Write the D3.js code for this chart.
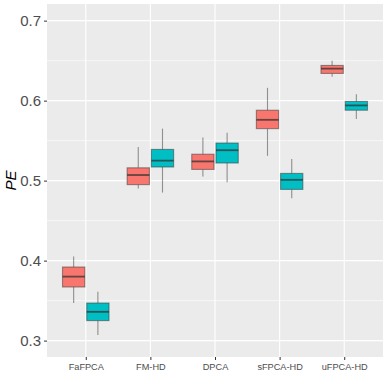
<!DOCTYPE html>
<html><head><meta charset="utf-8">
<script src="https://cdn.jsdelivr.net/npm/d3@7"></script>
<style>body{margin:0;background:#fff;}svg{display:block;}</style>
</head><body>
<svg id="c" width="388" height="388"></svg>
<script>
const categories = ["FaFPCA","FM-HD","DPCA","sFPCA-HD","uFPCA-HD"];
const groups = ["A","B"];
const colors = ["#F8766D","#00BFC4"];
// [whiskerLow, Q1, median, Q3, whiskerHigh]
const seriesA = [
  [0.347,0.367,0.380,0.392,0.405],
  [0.490,0.495,0.507,0.516,0.542],
  [0.505,0.514,0.524,0.533,0.554],
  [0.531,0.565,0.576,0.588,0.616],
  [0.630,0.634,0.640,0.644,0.650]
];
const seriesB = [
  [0.307,0.325,0.336,0.347,0.361],
  [0.485,0.517,0.525,0.539,0.565],
  [0.498,0.522,0.538,0.547,0.560],
  [0.478,0.489,0.501,0.509,0.527],
  [0.577,0.588,0.594,0.599,0.608]
];
const yTicks = [0.3,0.4,0.5,0.6,0.7];
const yMinor = [0.35,0.45,0.55,0.65];

const svg = d3.select("#c");
const L=47, R=383, T=4, B=357;
const x = d3.scalePoint().domain(categories).range([L,R]).padding(0.6);
const y = d3.scaleLinear().domain([0.2795,0.7208]).range([B,T]);
const step = x.step();
const dodge = d3.scaleBand().domain(groups).range([-0.375*step,0.375*step]);

svg.append("rect").attr("x",L).attr("y",T).attr("width",R-L).attr("height",B-T).attr("fill","#EBEBEB");
svg.append("g").selectAll("line").data(yMinor).join("line")
  .attr("x1",L).attr("x2",R).attr("y1",d=>y(d)).attr("y2",d=>y(d))
  .attr("stroke","#fff").attr("stroke-width",0.55);
svg.append("g").selectAll("line").data(yTicks).join("line")
  .attr("x1",L).attr("x2",R).attr("y1",d=>y(d)).attr("y2",d=>y(d))
  .attr("stroke","#fff").attr("stroke-width",1.1);
svg.append("g").selectAll("line").data(categories).join("line")
  .attr("x1",d=>x(d)).attr("x2",d=>x(d)).attr("y1",T).attr("y2",B)
  .attr("stroke","#fff").attr("stroke-width",1.1);

const all = [];
categories.forEach((c,i)=>{
  all.push({c,g:"A",v:seriesA[i],col:colors[0]});
  all.push({c,g:"B",v:seriesB[i],col:colors[1]});
});
const bw = dodge.bandwidth()*0.92;
const gb = svg.append("g");
all.forEach(d=>{
  const cx = x(d.c)+dodge(d.g)+dodge.bandwidth()/2;
  gb.append("line").attr("x1",cx).attr("x2",cx).attr("y1",y(d.v[4])).attr("y2",y(d.v[3]))
    .attr("stroke","#333").attr("stroke-opacity",0.5).attr("stroke-width",1.1);
  gb.append("line").attr("x1",cx).attr("x2",cx).attr("y1",y(d.v[1])).attr("y2",y(d.v[0]))
    .attr("stroke","#333").attr("stroke-opacity",0.5).attr("stroke-width",1.1);
  gb.append("rect").attr("x",cx-bw/2).attr("width",bw).attr("y",y(d.v[3])).attr("height",y(d.v[1])-y(d.v[3]))
    .attr("fill",d.col).attr("stroke","#333").attr("stroke-opacity",0.5).attr("stroke-width",1.1);
  gb.append("line").attr("x1",cx-bw/2).attr("x2",cx+bw/2).attr("y1",y(d.v[2])).attr("y2",y(d.v[2]))
    .attr("stroke","#333").attr("stroke-opacity",0.75).attr("stroke-width",1.8);
});

const ya = svg.append("g").attr("transform",`translate(${L},0)`)
  .call(d3.axisLeft(y).tickValues(yTicks).tickFormat(d3.format(".1f")).tickSize(3).tickPadding(3));
ya.select(".domain").remove();
ya.selectAll("line").attr("stroke","#333");
ya.selectAll("text").attr("fill","#4D4D4D").style("font-family","Arial, Liberation Sans, sans-serif").style("font-size","15px");

const xa = svg.append("g").attr("transform",`translate(0,${B})`)
  .call(d3.axisBottom(x).tickSize(3).tickPadding(3));
xa.select(".domain").remove();
xa.selectAll("line").attr("stroke","#333");
xa.selectAll("text").attr("fill","#4D4D4D").style("font-family","Arial, Liberation Sans, sans-serif").style("font-size","9.2px");

svg.append("text").attr("transform",`translate(16,${(T+B)/2}) rotate(-90)`)
  .attr("text-anchor","middle").style("font-family","Arial, Liberation Sans, sans-serif")
  .style("font-size","15px").style("font-style","italic").attr("fill","#000").text("PE");
</script>
</body></html>
